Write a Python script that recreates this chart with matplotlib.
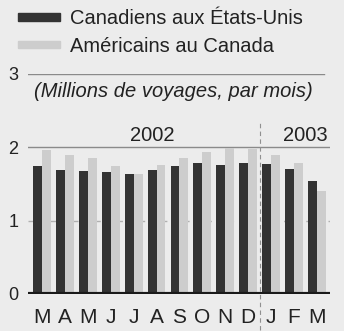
import numpy as np
import matplotlib
matplotlib.use('Agg')
import matplotlib.pyplot as plt
from matplotlib.patches import Rectangle

plt.rcParams['font.family'] = ['Liberation Sans', 'DejaVu Sans']

# Monthly trips, millions (Mar 2002 - Mar 2003)
months = ['M', 'A', 'M', 'J', 'J', 'A', 'S', 'O', 'N', 'D', 'J', 'F', 'M']
canadians_to_us = [1.75, 1.69, 1.68, 1.66, 1.63, 1.69, 1.74, 1.79, 1.76, 1.79, 1.77, 1.70, 1.54]
americans_to_ca = [1.96, 1.90, 1.85, 1.75, 1.63, 1.76, 1.85, 1.94, 1.99, 1.98, 1.89, 1.78, 1.40]
years = ['2002', '2003']
yticks = [0, 1, 2, 3]

bg = '#ececec'
dark = '#333333'
light = '#cdcdcd'
W, H = 344, 331

fig = plt.figure(figsize=(W / 100, H / 100), dpi=100, facecolor=bg)
ax = fig.add_axes([28 / W, 37 / H, 302 / W, 220 / H], facecolor=bg)

x = np.arange(len(months))
bw = 0.39
ax.bar(x - bw / 2, canadians_to_us, bw, color=dark, zorder=3)
ax.bar(x + bw / 2, americans_to_ca, bw, color=light, zorder=3)

ax.set_xlim(-0.61, 12.57)
ax.set_ylim(0, 3)

# grid lines
ax.axhline(3, xmax=0.98, color='#8a8a8a', lw=1, zorder=1)
ax.axhline(2, color='#8a8a8a', lw=1, zorder=1)
ax.axhline(1, color='#b0b0b0', lw=1, ls=(0, (4, 4)), zorder=1)
ax.axhline(0, color='#1a1a1a', lw=3, zorder=4)

# year separator
ax.axvline(9.5, ymin=-0.165, ymax=0.78, color='#909090', lw=0.8, ls=(0, (4, 3)),
           zorder=2, clip_on=False)

ax.text(4.8, 2.16, years[0], ha='center', va='center', fontsize=14.5, color='#222222')
ax.text(11.5, 2.16, years[1], ha='center', va='center', fontsize=14.5, color='#222222')
ax.text(5.75, 2.76, '(Millions de voyages, par mois)', ha='center', va='center',
        fontsize=14.5, style='italic', color='#222222')

for s in ax.spines.values():
    s.set_visible(False)
ax.set_xticks(x)
ax.set_xticklabels(months, fontsize=15, color='#222222')
ax.set_yticks(yticks)
ax.set_yticklabels([str(v) for v in yticks], fontsize=13, color='#222222')
ax.tick_params(length=0)
ax.tick_params(axis='x', pad=10)
ax.tick_params(axis='y', pad=7)

# legend
fig.add_artist(Rectangle((18 / W, 1 - 21 / H), 42 / W, 8 / H, transform=fig.transFigure,
                         color=dark))
fig.add_artist(Rectangle((18 / W, 1 - 48 / H), 42 / W, 7 / H, transform=fig.transFigure,
                         color=light))
fig.text(70 / W, 1 - 19 / H, 'Canadiens aux États-Unis', fontsize=14.5, va='center',
         color='#222222')
fig.text(70 / W, 1 - 47 / H, 'Américains au Canada', fontsize=14.5, va='center',
         color='#222222')

fig.savefig('out.png', dpi=100, facecolor=bg)
